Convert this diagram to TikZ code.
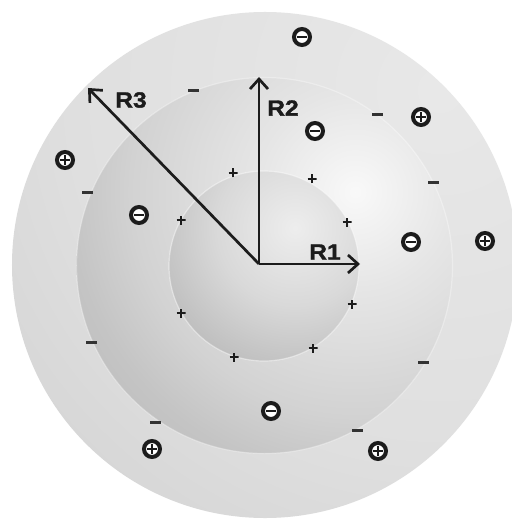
\documentclass[tikz,border=0pt]{standalone}
\usepackage{fontspec}
\setmainfont{Liberation Sans}
\newfontfamily\lblfont[BoldFeatures={FakeBold=1.5}]{Liberation Sans}
\usetikzlibrary{arrows.meta}
\definecolor{ink}{HTML}{1C1C1C}
\pgfdeclareradialshading{outershade}{\pgfpoint{0bp}{0bp}}{gray(0bp)=(0.91); gray(17bp)=(0.875); gray(29bp)=(0.815); gray(42bp)=(0.745); gray(50bp)=(0.73)}
\pgfdeclareradialshading{midshade}{\pgfpoint{0bp}{0bp}}{gray(0bp)=(0.975); gray(8bp)=(0.90); gray(18bp)=(0.825); gray(23bp)=(0.77); gray(42bp)=(0.645); gray(50bp)=(0.62)}
\pgfdeclareradialshading{innershade}{\pgfpoint{0bp}{0bp}}{gray(0bp)=(0.93); gray(13bp)=(0.85); gray(25bp)=(0.74); gray(37bp)=(0.63); gray(50bp)=(0.53)}
\tikzset{
  ring/.style={circle, draw=ink, line width=4bp, fill=white, minimum size=16bp, inner sep=0pt},
  cminus/.style={ring, path picture={\draw[ink, line width=2.6bp] ([xshift=-5bp]path picture bounding box.center) -- ([xshift=5bp]path picture bounding box.center);}},
  cplus/.style={ring, path picture={\draw[ink, line width=2.3bp] ([xshift=-4.8bp]path picture bounding box.center) -- ([xshift=4.8bp]path picture bounding box.center) ([yshift=-4.8bp]path picture bounding box.center) -- ([yshift=4.8bp]path picture bounding box.center);}},
  sminus/.style={rectangle, fill=ink!90, minimum width=11bp, minimum height=3bp, inner sep=0pt},
  splus/.style={rectangle, minimum size=9bp, inner sep=0pt, path picture={\draw[ink, line width=1.9bp] ([xshift=-4.5bp]path picture bounding box.center) -- ([xshift=4.5bp]path picture bounding box.center) ([yshift=-4.5bp]path picture bounding box.center) -- ([yshift=4.5bp]path picture bounding box.center);}},
  radius arrow/.style={draw=ink, line width=2.7bp, -{Straight Barb[length=10bp,width=18bp,line width=2.7bp]}},
  rlabel/.style={text=ink, font=\lblfont\fontsize{22}{22}\selectfont\bfseries, inner sep=0pt, xscale=1.12}
}
\begin{document}
\begin{tikzpicture}[x=1bp, y=-1bp]
\useasboundingbox (0,0) rectangle (512,521);
\fill[white] (0,0) rectangle (512,521);
\clip (0,0) rectangle (512,521);
% outer shell
\begin{scope}
  \clip (265,265) circle (253bp);
  \shade[shading=outershade] (440,90) circle (540bp);
\end{scope}
% middle shell
\begin{scope}
  \clip (264.5,265.5) circle (188bp);
  \shade[shading=midshade] (355,192) circle (310bp);
\end{scope}
\draw[white, opacity=0.35, line width=1.2bp] (264.5,265.5) circle (188bp);
% inner sphere
\begin{scope}
  \clip (264,266) circle (95bp);
  \shade[shading=innershade] (295,228) circle (150bp);
\end{scope}
\draw[white, opacity=0.45, line width=1.2bp] (264,266) circle (95bp);
% radius arrows
\coordinate (O) at (259,264);
\coordinate (t1) at (360,264);
\coordinate (t2) at (259,77);
\coordinate (t3) at (88,88);
\draw[radius arrow] (O) -- (t1);
\draw[radius arrow] (O) -- (t2);
\draw[radius arrow] (O) -- (t3);
\node[rlabel] (r1) at (325,252) {R1};
\node[rlabel] (r2) at (283,108) {R2};
\node[rlabel] (r3) at (131,100) {R3};
% circled charges
\node[cminus] (m1) at (302,37) {};
\node[cplus]  (p1) at (421,117) {};
\node[cminus] (m2) at (315,131) {};
\node[cplus]  (p2) at (65,160) {};
\node[cminus] (m3) at (139,215) {};
\node[cminus] (m4) at (411,242) {};
\node[cplus]  (p3) at (485,241) {};
\node[cminus] (m5) at (271,411) {};
\node[cplus]  (p4) at (152,449) {};
\node[cplus]  (p5) at (378,451) {};
% small minus on middle shell
\node[sminus] (s1) at (193,91) {};
\node[sminus] (s2) at (377,115) {};
\node[sminus] (s3) at (433,183) {};
\node[sminus] (s4) at (87,193) {};
\node[sminus] (s5) at (91,342) {};
\node[sminus] (s6) at (423,362) {};
\node[sminus] (s7) at (155,422) {};
\node[sminus] (s8) at (357,430) {};
% small plus on inner sphere
\node[splus] (q1) at (233,173) {};
\node[splus] (q2) at (312,179) {};
\node[splus] (q3) at (181,220) {};
\node[splus] (q4) at (347,222) {};
\node[splus] (q5) at (181,313) {};
\node[splus] (q6) at (352,304) {};
\node[splus] (q7) at (313,348) {};
\node[splus] (q8) at (234,357) {};
\end{tikzpicture}
\end{document}
